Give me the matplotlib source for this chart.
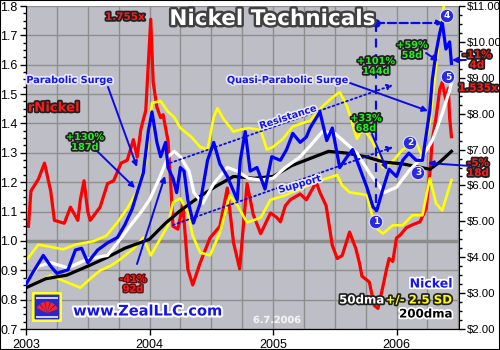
import matplotlib
matplotlib.use('Agg')
import matplotlib.pyplot as plt
import matplotlib.patheffects as pe
from matplotlib.patches import Rectangle, FancyBboxPatch, Wedge
import numpy as np

# nickel price ($/lb)
nickel_t = [2003.00, 2003.06, 2003.14, 2003.20, 2003.25, 2003.34, 2003.40, 2003.45, 2003.50,
            2003.58, 2003.66, 2003.74, 2003.80, 2003.86, 2003.90, 2003.95, 2003.99, 2004.02,
            2004.06, 2004.09, 2004.13, 2004.15, 2004.19, 2004.22, 2004.25, 2004.28, 2004.31,
            2004.355, 2004.41, 2004.47, 2004.52, 2004.57, 2004.63, 2004.71, 2004.735, 2004.775,
            2004.815, 2004.87, 2004.935, 2004.99, 2005.06, 2005.11, 2005.16, 2005.22, 2005.27,
            2005.30, 2005.38, 2005.435, 2005.48, 2005.54, 2005.60, 2005.645, 2005.70, 2005.76,
            2005.81, 2005.84, 2005.89, 2005.94, 2006.00, 2006.05, 2006.10, 2006.16, 2006.21,
            2006.27, 2006.29, 2006.32, 2006.35, 2006.37, 2006.40, 2006.43, 2006.445]
nickel_px = [3.25, 3.6, 4.05, 3.75, 3.55, 3.65, 4.2, 4.25, 3.85,
             4.2, 4.4, 4.55, 4.9, 5.35, 5.8, 6.35, 7.5, 8.05,
             7.2, 6.8, 7.2, 6.5, 6.2, 5.8, 6.5, 6.4, 5.6,
             4.95, 5.5, 6.7, 7.2, 6.6, 6.25, 5.6, 6.7, 7.5,
             6.4, 6.5, 5.9, 6.8, 6.7, 7.0, 7.45, 7.2, 7.35,
             7.6, 8.05, 7.25, 7.6, 6.5, 6.8, 7.0, 6.5, 5.95,
             5.4, 5.3, 5.9, 6.45, 6.25, 6.7, 6.9, 6.7, 6.7,
             8.1, 8.95, 9.7, 10.25, 10.55, 9.8, 10.0, 9.4]

dma50_t = [2003.00, 2003.10, 2003.20, 2003.34, 2003.50, 2003.66, 2003.74, 2003.85, 2003.93,
           2004.00, 2004.08, 2004.15, 2004.20, 2004.25, 2004.32, 2004.36, 2004.43, 2004.52,
           2004.63, 2004.71, 2004.80, 2004.90, 2005.00, 2005.10, 2005.22, 2005.30, 2005.40,
           2005.50, 2005.60, 2005.68, 2005.78, 2005.90, 2006.00, 2006.10, 2006.21, 2006.29,
           2006.37, 2006.43, 2006.445]
dma50 = [3.3, 3.75, 3.85, 3.7, 3.95, 4.05, 4.4, 4.9, 5.25,
         5.6, 6.2, 6.8, 6.95, 6.8, 6.4, 5.8, 5.5, 6.05,
         6.5, 6.4, 6.2, 6.15, 6.2, 6.5, 6.8, 7.1, 7.5,
         7.45, 7.15, 6.9, 6.35, 5.8, 5.95, 6.4, 6.8, 7.25,
         8.0, 8.65, 8.85]

dma200_t = [2003.00, 2003.16, 2003.33, 2003.50, 2003.66, 2003.80, 2004.00, 2004.13, 2004.25,
            2004.41, 2004.55, 2004.68, 2004.85, 2005.00, 2005.15, 2005.30, 2005.45, 2005.60,
            2005.75, 2005.90, 2006.05, 2006.20, 2006.27, 2006.35, 2006.445]
dma200 = [3.15, 3.4, 3.5, 3.75, 4.0, 4.25, 4.5, 4.95, 5.3,
          5.7, 6.0, 6.25, 6.2, 6.25, 6.55, 6.75, 6.95, 6.9,
          6.8, 6.65, 6.6, 6.5, 6.45, 6.65, 6.95]

upper_t = [2003.00, 2003.10, 2003.18, 2003.30, 2003.40, 2003.55, 2003.65, 2003.74, 2003.82,
           2003.90, 2003.97, 2004.02, 2004.09, 2004.15, 2004.20, 2004.25, 2004.34, 2004.41,
           2004.47, 2004.52, 2004.55, 2004.60, 2004.68, 2004.73, 2004.80, 2004.90, 2004.95,
           2005.00, 2005.08, 2005.16, 2005.25, 2005.30, 2005.40, 2005.48, 2005.54, 2005.60,
           2005.68, 2005.73, 2005.81, 2005.89, 2005.95, 2006.05, 2006.16, 2006.21, 2006.27,
           2006.32, 2006.36, 2006.39, 2006.445]
upper = [3.9, 4.35, 4.3, 4.22, 4.35, 4.45, 4.6, 4.97, 5.36,
         5.85, 6.65, 8.3, 8.35, 8.05, 7.9, 7.6, 7.35, 7.07,
         7.0, 7.9, 8.15, 7.85, 7.5, 7.55, 7.6, 7.55, 7.0,
         7.07, 7.3, 7.64, 7.75, 7.8, 8.2, 8.45, 8.6, 8.2,
         7.3, 7.6, 7.2, 6.5, 6.6, 7.0, 7.2, 6.8, 7.75,
         9.3, 10.6, 11.1, 11.3]

lower_t = [2003.00, 2003.20, 2003.34, 2003.44, 2003.52, 2003.60, 2003.69, 2003.77, 2003.87,
           2003.95, 2004.01, 2004.15, 2004.19, 2004.25, 2004.31, 2004.35, 2004.41, 2004.49,
           2004.57, 2004.65, 2004.71, 2004.79, 2004.90, 2004.98, 2005.08, 2005.22, 2005.35,
           2005.52, 2005.56, 2005.62, 2005.76, 2005.81, 2005.84, 2005.89, 2005.97, 2006.05,
           2006.13, 2006.21, 2006.27, 2006.32, 2006.37, 2006.445]
lower = [3.15, 3.49, 3.29, 3.15, 3.4, 3.63, 3.77, 3.96, 4.24,
         4.55, 4.05, 4.89, 5.53, 5.64, 5.25, 4.6, 4.13, 4.05,
         4.69, 5.73, 5.45, 4.97, 5.1, 5.6, 5.7, 5.9, 6.1,
         6.29, 6.0, 5.81, 5.73, 5.08, 4.8, 4.66, 4.89, 4.89,
         5.17, 5.17, 6.2, 5.5, 5.3, 6.15]

# rNickel = price / 200dma (left axis)
rnickel_t = [2003.02, 2003.04, 2003.10, 2003.15, 2003.20, 2003.23, 2003.31, 2003.36, 2003.42,
             2003.44, 2003.47, 2003.50, 2003.52, 2003.60, 2003.66, 2003.71, 2003.77, 2003.82,
             2003.87, 2003.90, 2003.93, 2003.97, 2003.99, 2004.01, 2004.03, 2004.06, 2004.09,
             2004.11, 2004.15, 2004.17, 2004.19, 2004.23, 2004.27, 2004.31, 2004.35, 2004.41,
             2004.49, 2004.57, 2004.63, 2004.68, 2004.73, 2004.79, 2004.84, 2004.90, 2004.98,
             2005.03, 2005.06, 2005.10, 2005.14, 2005.22, 2005.27, 2005.35, 2005.38, 2005.43,
             2005.48, 2005.52, 2005.56, 2005.62, 2005.67, 2005.70, 2005.72, 2005.78, 2005.82,
             2005.85, 2005.89, 2005.92, 2005.94, 2005.97, 2006.00, 2006.03, 2006.08, 2006.13,
             2006.19, 2006.24, 2006.27, 2006.29, 2006.32, 2006.35, 2006.37, 2006.40, 2006.42,
             2006.43, 2006.445]
rnickel = [1.05, 1.17, 1.21, 1.265, 1.17, 1.07, 1.06, 1.115, 1.07,
           1.14, 1.205, 1.10, 1.07, 1.115, 1.195, 1.205, 1.265, 1.275,
           1.345, 1.285, 1.38, 1.445, 1.60, 1.755, 1.54, 1.455, 1.42,
           1.43, 1.34, 1.21, 1.05, 1.04, 1.125, 0.905, 0.85, 0.925,
           1.01, 1.05, 1.18, 0.995, 0.905, 1.195, 1.09, 1.025, 1.095,
           1.08, 1.065, 1.12, 1.14, 1.16, 1.14, 1.20, 1.165, 1.12,
           0.985, 0.94, 0.95, 1.03, 0.975, 0.925, 0.88, 0.86, 0.78,
           0.77, 0.845, 0.905, 0.94, 0.93, 1.01, 1.02, 1.045, 1.055,
           1.065, 1.11, 1.23, 1.345, 1.42, 1.515, 1.54, 1.48, 1.52,
           1.42, 1.355]

year_ticks = [2003, 2004, 2005, 2006]
price_ticks = [2, 3, 4, 5, 6, 7, 8, 9, 10, 11]

fig = plt.figure(figsize=(5, 3.5), dpi=100)
ax = fig.add_axes([26 / 500, 1 - 329 / 350, 433 / 500, 323 / 350])
ax.set_facecolor('#bebec6')
ax2 = ax.twinx()

ax.set_xlim(2003.0, 2006.506)
ax.set_ylim(0.7, 1.8)
ax2.set_ylim(2, 11)

ax.set_xticks(year_ticks)
ax.set_xticks(np.arange(2003, 2006.6, 0.25), minor=True)
ax.set_yticks(np.arange(0.7, 1.801, 0.1))
ax.set_yticks(np.arange(0.7, 1.801, 0.025), minor=True)
ax.set_yticklabels(['%.1f' % v for v in np.arange(0.7, 1.801, 0.1)])
ax2.set_yticks(price_ticks)
ax2.set_yticks(np.arange(2, 11.01, 0.25), minor=True)
ax2.set_yticklabels(['$%.2f' % v for v in price_ticks])

ax.grid(True, which='major', axis='y', color='#8e8e8e', lw=1)
ax.grid(True, which='both', axis='x', color='#8e8e8e', lw=1)
ax.set_axisbelow(True)
ax.axhline(1.0, color='#8c8c8c', lw=2.5, zorder=1)

for lab in ax.get_xticklabels() + ax.get_yticklabels():
    lab.set_fontfamily('Liberation Sans')
    lab.set_fontsize(9)
for lab in ax2.get_yticklabels():
    lab.set_fontfamily('Liberation Sans')
    lab.set_fontsize(8.2)
ax.tick_params(axis='y', which='major', direction='out', length=4, width=1, pad=2)
ax.tick_params(axis='y', which='minor', direction='out', length=2.5, width=1)
ax.tick_params(axis='x', which='major', direction='out', length=4, width=1, pad=3)
ax.tick_params(axis='x', which='minor', length=0)
ax2.tick_params(axis='y', which='major', direction='out', length=4, width=1, pad=1.5)
ax2.tick_params(axis='y', which='minor', direction='out', length=2.5, width=1)
for a in (ax, ax2):
    a.spines['top'].set_visible(False)
ax.spines['right'].set_visible(False)

# series
ax.plot(rnickel_t, rnickel, color='#ff0000', lw=2.3, zorder=2)
ax2.plot(lower_t, lower, color='#ffff00', lw=1.9, zorder=2)
ax2.plot(upper_t, upper, color='#ffff00', lw=1.9, zorder=2)
ax2.plot(dma200_t, dma200, color='black', lw=2.3, zorder=3)
ax2.plot(dma50_t, dma50, color='white', lw=2.3, zorder=3)
ax2.plot(nickel_t, nickel_px, color='#0000ff', lw=2.3, zorder=4)


def fr(x, y):
    # position in the 500x350 reference -> axes fraction
    return ((x - 26) / 433, (329 - y) / 323)


def label(x, y, s, color, edge, size, lw=2.5, rot=0, ha='center'):
    ax2.text(*fr(x, y), s, transform=ax2.transAxes, color=color, fontsize=size,
             fontweight='bold', ha=ha, va='center', rotation=rot, linespacing=1.0,
             path_effects=[pe.withStroke(linewidth=lw, foreground=edge)],
             clip_on=False, zorder=10)


def arrow(x0, y0, x1, y1, ls='-', lw=1.4):
    ax2.annotate('', xy=fr(x1, y1), xytext=fr(x0, y0), xycoords='axes fraction',
                 textcoords='axes fraction', annotation_clip=False, zorder=9,
                 arrowprops=dict(arrowstyle='-|>', color='#0a0ae6', lw=lw, ls=ls,
                                 mutation_scale=8, shrinkA=0, shrinkB=0))


blue = '#1414f0'
green = '#22ee22'
red = '#ff1a1a'
dark = '#202020'

label(272, 19, 'Nickel Technicals', 'white', '#404040', 15.5, lw=3.5)
label(125, 17, '1.755x', red, dark, 7.5)
label(70, 80, 'Parabolic Surge', blue, '#e8e8f0', 7)
label(54, 108, 'rNickel', red, dark, 9.5)
label(85, 142, '+130%\n187d', green, dark, 7)
label(133, 284, '-41%\n92d', red, '#601010', 7, lw=2)
label(288, 80, 'Quasi-Parabolic Surge', blue, '#e8e8f0', 7)
label(288, 117, 'Resistance', blue, '#e8e8f0', 7, rot=18)
label(300, 184, 'Support', blue, '#e8e8f0', 7, rot=16)
label(376, 66, '+101%\n144d', green, dark, 7)
label(412, 50, '+59%\n58d', green, dark, 7)
label(366, 123, '+33%\n68d', green, dark, 7)
label(477, 60, '-11%\n4d', red, dark, 7.5)
label(478, 88, '1.535x', red, dark, 7.5)
label(478, 168, '-5%\n18d', red, dark, 7.5)

for num, (cx, cy) in zip('12345', [(376, 222), (410, 143), (418, 173), (447, 16), (448, 77)]):
    ax2.text(*fr(cx, cy), num, transform=ax2.transAxes, color='white', fontsize=6.5,
             fontweight='bold', ha='center', va='center', zorder=11, clip_on=False,
             bbox=dict(boxstyle='circle,pad=0.25', fc='#2a2ae0', ec='#e0e0ff', lw=0.8))

# arrows
arrow(108, 87, 137, 167)
arrow(97, 151, 135, 188)
arrow(137, 264, 165, 176)
arrow(350, 83, 428, 111)
arrow(426, 53, 438, 61)
arrow(466, 60, 452, 60)
arrow(372, 134, 387, 170)
arrow(470, 166, 428, 163)
arrow(170, 163, 393, 85, ls=':', lw=1.3)
arrow(173, 225, 393, 147, ls=':', lw=1.3)

# dashed measuring lines for the +101% run
ax2.plot(*zip(fr(376, 23), fr(376, 212)), transform=ax2.transAxes, color='#0a0ae6',
         lw=1.6, ls='--', dashes=(4, 3), zorder=9)
arrow(376, 23, 443, 23, ls='--', lw=1.6)
ax2.plot(*fr(376, 23), 'o', transform=ax2.transAxes, color='#0a0ae6', ms=5, zorder=9)

# legend texts
label(452, 284, 'Nickel', blue, 'white', 9, ha='right')
label(452, 300, '+/- 2.5 SD', '#ffff00', dark, 8.5, ha='right')
label(384, 300, '50dma', 'white', dark, 8.5, ha='right')
label(452, 314, '200dma', 'black', 'white', 8.5, ha='right')
label(277, 320, '6.7.2006', '#f2f2f2', '#c8c8ce', 7, lw=0.5)
label(148, 311, 'www.ZealLLC.com', '#1414e6', 'white', 10.5, lw=3)

# logo
lax = fig.add_axes([32 / 500, 1 - 322 / 350, 30 / 500, 30 / 350])
lax.set_xlim(0, 1)
lax.set_ylim(0, 1)
lax.axis('off')
lax.add_patch(FancyBboxPatch((0.06, 0.06), 0.88, 0.88, boxstyle='round,pad=0.02',
                             fc='#2828c8', ec='#ffff20', lw=2))
for y0 in (0.14, 0.78):
    lax.add_patch(Rectangle((0.14, y0), 0.72, 0.07, fc='#d0d0ff', ec='none'))
for a0 in range(20, 160, 28):
    lax.add_patch(Wedge((0.5, 0.3), 0.38, a0, a0 + 22, fc='#ff2020', ec='none'))

fig.patches.append(Rectangle((0, 0), 1, 1, transform=fig.transFigure, fill=False,
                             ec='black', lw=1.5))

fig.savefig('out.png', dpi=100)
